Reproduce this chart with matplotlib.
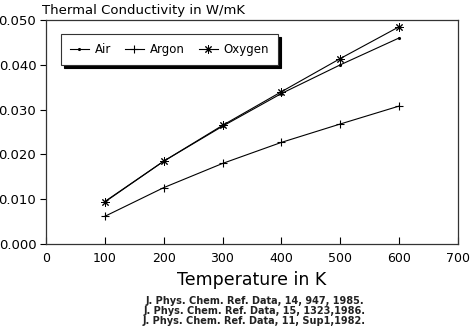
import matplotlib
matplotlib.use('Agg')
import matplotlib.pyplot as plt

# Thermal conductivity of gases vs temperature
temps = [100, 200, 300, 400, 500, 600]
air = [0.0094, 0.0185, 0.0263, 0.0336, 0.0400, 0.0460]
argon = [0.0062, 0.0126, 0.0180, 0.0227, 0.0268, 0.0308]
oxygen = [0.0095, 0.0185, 0.0265, 0.0340, 0.0414, 0.0485]

x_ticks = [0, 100, 200, 300, 400, 500, 600, 700]
y_ticks = [0.0, 0.01, 0.02, 0.03, 0.04, 0.05]
refs = ['J. Phys. Chem. Ref. Data, 14, 947, 1985.',
        'J. Phys. Chem. Ref. Data, 15, 1323,1986.',
        'J. Phys. Chem. Ref. Data, 11, Sup1,1982.']

plt.rcParams['font.family'] = ['DejaVu Sans']

fig = plt.figure(figsize=(4.74, 3.29), dpi=100)
ax = fig.add_axes([0.097, 0.258, 0.869, 0.681])

ax.plot(temps, air, color='black', lw=0.8, marker='.', ms=2.5, label='Air')
ax.plot(temps, argon, color='black', lw=0.8, marker='+', ms=6, mew=0.8, label='Argon')
ax.plot(temps, oxygen, color='black', lw=0.8, marker=(8, 2, 0), ms=6, mew=0.7, label='Oxygen')

ax.set_xlim(0, 700)
ax.set_ylim(0, 0.05)
ax.set_xticks(x_ticks)
ax.set_yticks(y_ticks)
ax.set_yticklabels(['%.3f' % v for v in y_ticks], fontsize=9.5)
ax.tick_params(axis='x', direction='in', length=5, width=0.8, labelsize=9, pad=6)
ax.tick_params(axis='y', direction='out', length=4, width=0.8, pad=3)
for s in ax.spines.values():
    s.set_linewidth(0.9)
    s.set_color('#333333')

ax.set_xlabel('Temperature in K', fontsize=12.5, labelpad=4)
fig.text(0.089, 0.969, 'Thermal Conductivity in W/mK', fontsize=9.5,
         ha='left', va='center')

for i, r in enumerate(refs):
    fig.text(0.537, 0.085 - i * 0.031, r, fontsize=7, fontweight='bold',
             ha='center', va='center', color='#222222')

leg = ax.legend(loc='upper left', bbox_to_anchor=(0.036, 0.9375), borderaxespad=0,
                ncol=3, fontsize=8.5, handlelength=1.6, columnspacing=1.2,
                handletextpad=0.5, fancybox=False, framealpha=1,
                edgecolor='#333333', borderpad=0.75,
                shadow={'color': 'black', 'alpha': 1})
leg.get_frame().set_linewidth(0.8)

fig.savefig('out.png', dpi=100)
